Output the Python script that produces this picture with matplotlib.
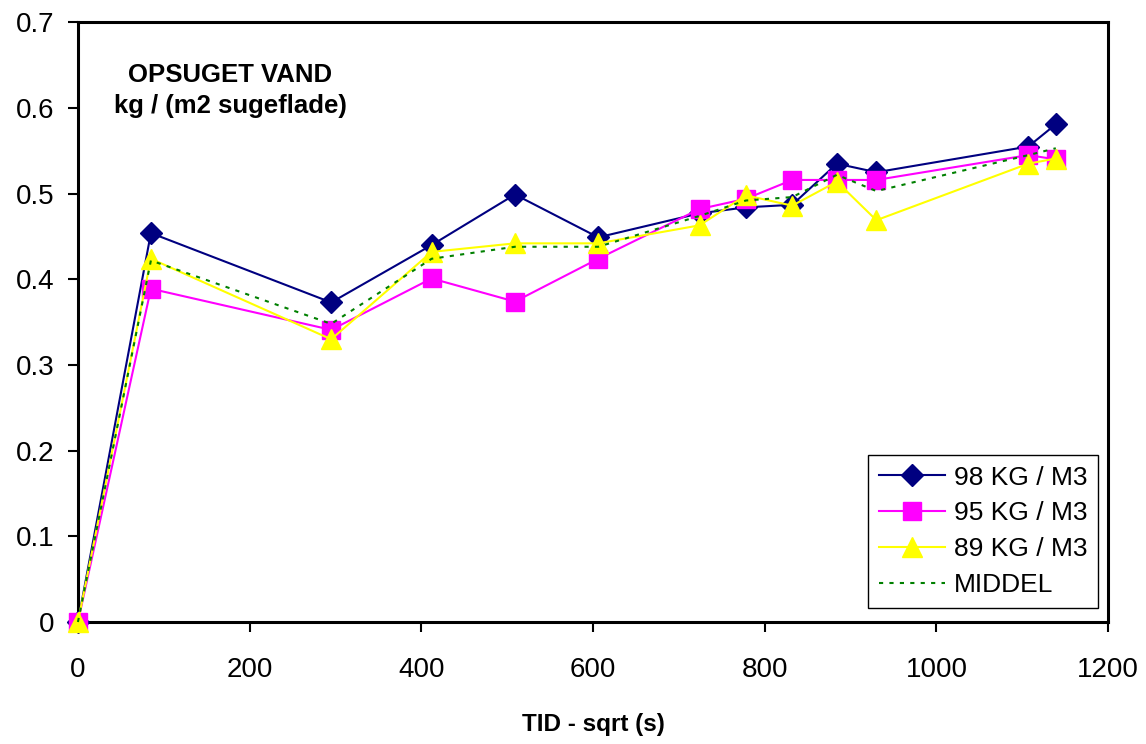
import matplotlib.pyplot as plt

plt.rcParams['font.family'] = ['Liberation Sans', 'DejaVu Sans']

# tid (sqrt s) og opsuget vand
tid = [0, 85, 295, 412, 509, 606, 724, 778, 832, 884, 930, 1107, 1139]
kg98 = [0, 0.454, 0.373, 0.440, 0.499, 0.449, 0.477, 0.484, 0.487, 0.535, 0.525, 0.555, 0.581]
kg95 = [0, 0.389, 0.341, 0.401, 0.374, 0.424, 0.482, 0.494, 0.516, 0.516, 0.516, 0.545, 0.540]
kg89 = [0, 0.424, 0.330, 0.432, 0.442, 0.442, 0.463, 0.498, 0.486, 0.514, 0.469, 0.535, 0.541]
middel = [0, 0.422, 0.348, 0.424, 0.438, 0.438, 0.474, 0.492, 0.496, 0.522, 0.503, 0.545, 0.553]

fig = plt.figure(figsize=(11.46, 7.44), dpi=100)
ax = fig.add_axes([0.068, 0.164, 0.899, 0.806])

ax.plot(tid, kg98, color='#000080', lw=1.5, marker='D', ms=11, label='98 KG / M3', clip_on=False, zorder=3)
ax.plot(tid, kg95, color='#FF00FF', lw=1.5, marker='s', ms=13.5, label='95 KG / M3', clip_on=False, zorder=4)
ax.plot(tid, kg89, color='#FFFF00', lw=1.5, marker='^', ms=14, label='89 KG / M3', clip_on=False, zorder=5)
ax.plot(tid, middel, color='#008000', lw=1.5, ls=(0, (2, 3)), label='MIDDEL', clip_on=False, zorder=6)

ax.set_xlim(0, 1200)
ax.set_ylim(0, 0.7)
ax.set_xticks(range(0, 1201, 200))
ax.set_yticks([0, 0.1, 0.2, 0.3, 0.4, 0.5, 0.6, 0.7])
ax.set_yticklabels(['0', '0.1', '0.2', '0.3', '0.4', '0.5', '0.6', '0.7'])
ax.tick_params(labelsize=20, width=1.5, length=7)
ax.tick_params(axis='x', pad=18)
ax.tick_params(axis='y', pad=10)

for s in ax.spines.values():
    s.set_linewidth(2.2)

ax.set_xlabel('TID - sqrt (s)', fontsize=17.5, fontweight='bold', labelpad=22)

ax.text(0.148, 0.886, 'OPSUGET VAND\nkg / (m2 sugeflade)', transform=ax.transAxes,
        ha='center', va='center', fontsize=18.5, fontweight='bold', linespacing=1.4)

leg = ax.legend(loc='lower right', bbox_to_anchor=(0.9955, 0.015), fontsize=19,
                fancybox=False, framealpha=1, edgecolor='black', handlelength=2.5,
                borderpad=0.4, labelspacing=0.45, handletextpad=0.35, borderaxespad=0.2)
leg.get_frame().set_linewidth(1.0)

plt.savefig('out.png', dpi=100)
